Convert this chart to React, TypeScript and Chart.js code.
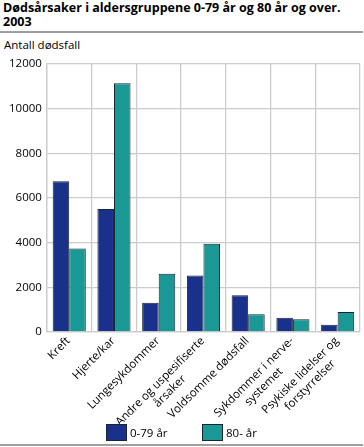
import React, { useEffect, useRef } from "react";
import { Chart, registerables } from "chart.js";

Chart.register(...registerables);

const categories: (string | string[])[] = [
  "Kreft",
  "Hjerte/kar",
  "Lungesykdommer",
  ["Andre og uspesifiserte", "årsaker"],
  "Voldsomme dødsfall",
  ["Sykdommer i nerve-", "systemet"],
  ["Psykiske lidelser og", "forstyrrelser"],
];
const series0to79 = [6750, 5510, 1310, 2530, 1640, 640, 330];
const series80plus = [3740, 11130, 2610, 3950, 790, 570, 890];
const seriesNames = ["0-79 år", "80- år"];
const seriesColors = ["#1a318c", "#1a9896"];
const yTicks = { min: 0, max: 12000, step: 2000 };

const FONT = "'Open Sans', 'DejaVu Sans', sans-serif";
const LABEL_SIZE = 11.5;

// Draws the rotated category labels with each line centred within its block
const rotatedLabels = {
  id: "rotatedLabels",
  afterDraw(chart: any) {
    const scale = chart.scales.x;
    const ctx = chart.ctx;
    const lineHeight = LABEL_SIZE * 1.2;
    const rot = -Math.PI / 4;
    ctx.save();
    ctx.font = `${LABEL_SIZE}px ${FONT}`;
    ctx.fillStyle = "#000";
    ctx.textBaseline = "top";
    ctx.textAlign = "center";
    const labels: (string | string[])[] = chart.data.labels;
    labels.forEach((lab, i) => {
      const lines = Array.isArray(lab) ? lab : [lab];
      const w = Math.max(...lines.map((l) => ctx.measureText(l).width));
      const x = scale.getPixelForTick(i) + (lineHeight / 2) * Math.sin(rot);
      const y = scale.top + 3;
      ctx.save();
      ctx.translate(x, y);
      ctx.rotate(rot);
      lines.forEach((l, j) => ctx.fillText(l, -w / 2, j * lineHeight));
      ctx.restore();
    });
    ctx.restore();
  },
};

export default function App() {
  const ref = useRef<HTMLCanvasElement | null>(null);

  useEffect(() => {
    document.body.style.margin = "0";
    const ctx = ref.current!;
    const chart = new Chart(ctx, {
      type: "bar",
      data: {
        labels: categories,
        datasets: [
          {
            label: seriesNames[0],
            data: series0to79,
            backgroundColor: seriesColors[0],
            borderColor: "#1a2533",
            borderWidth: 1,
            categoryPercentage: 0.74,
            barPercentage: 1,
          },
          {
            label: seriesNames[1],
            data: series80plus,
            backgroundColor: seriesColors[1],
            borderColor: "#1a2533",
            borderWidth: 1,
            categoryPercentage: 0.74,
            barPercentage: 1,
          },
        ],
      },
      options: {
        animation: false,
        responsive: false,
        maintainAspectRatio: false,
        layout: { padding: { left: 4, right: 4, top: 11, bottom: 0 } },
        plugins: {
          tooltip: { enabled: false },
          legend: { display: false },
        },
        scales: {
          x: {
            grid: { color: "#cccccc", lineWidth: 1.3, drawTicks: false, offset: true },
            border: { color: "#cccccc", width: 1.3 },
            afterFit: (scale: any) => {
              scale.height = 112;
            },
            ticks: { display: false },
          },
          y: {
            min: yTicks.min,
            max: yTicks.max,
            grid: { color: "#cccccc", lineWidth: 1.3, drawTicks: false },
            border: { color: "#cccccc", width: 1.3 },
            ticks: {
              stepSize: yTicks.step,
              padding: 5,
              color: "#000",
              font: { family: FONT, size: LABEL_SIZE },
              callback: (v: any) => String(v),
            },
          },
        },
      },
      plugins: [rotatedLabels],
    });
    return () => chart.destroy();
  }, []);

  const legendBox = (i: number, left: number) => (
    <React.Fragment key={i}>
      <div
        style={{
          position: "absolute",
          left,
          top: 424,
          width: 19,
          height: 15,
          background: seriesColors[i],
          border: "1px solid #1a2533",
        }}
      />
      <div style={{ position: "absolute", left: left + 24, top: 424, fontSize: 11.5, lineHeight: "17px", color: "#000" }}>
        {seriesNames[i]}
      </div>
    </React.Fragment>
  );

  return (
    <div style={{ position: "relative", width: 364, height: 447, background: "#fff", fontFamily: FONT }}>
      <div
        style={{
          position: "absolute",
          left: 3,
          top: 1,
          width: 360,
          fontWeight: "bold",
          fontSize: 12.5,
          lineHeight: "14px",
          color: "#000",
        }}
      >
        Dødsårsaker i aldersgruppene 0-79 år og 80 år og over.
        <br />
        2003
      </div>
      <div style={{ position: "absolute", left: 0, top: 31, width: 363, height: 2, background: "#a0a0a0" }} />
      <div style={{ position: "absolute", left: 4, top: 37, fontSize: 11.5, color: "#000" }}>Antall dødsfall</div>
      <canvas ref={ref} width={364} height={392} style={{ position: "absolute", left: 0, top: 52 }} />
      {legendBox(0, 106)}
      {legendBox(1, 202)}
      <div style={{ position: "absolute", left: 0, top: 444, width: 363, height: 2, background: "#a0a0a0" }} />
    </div>
  );
}
